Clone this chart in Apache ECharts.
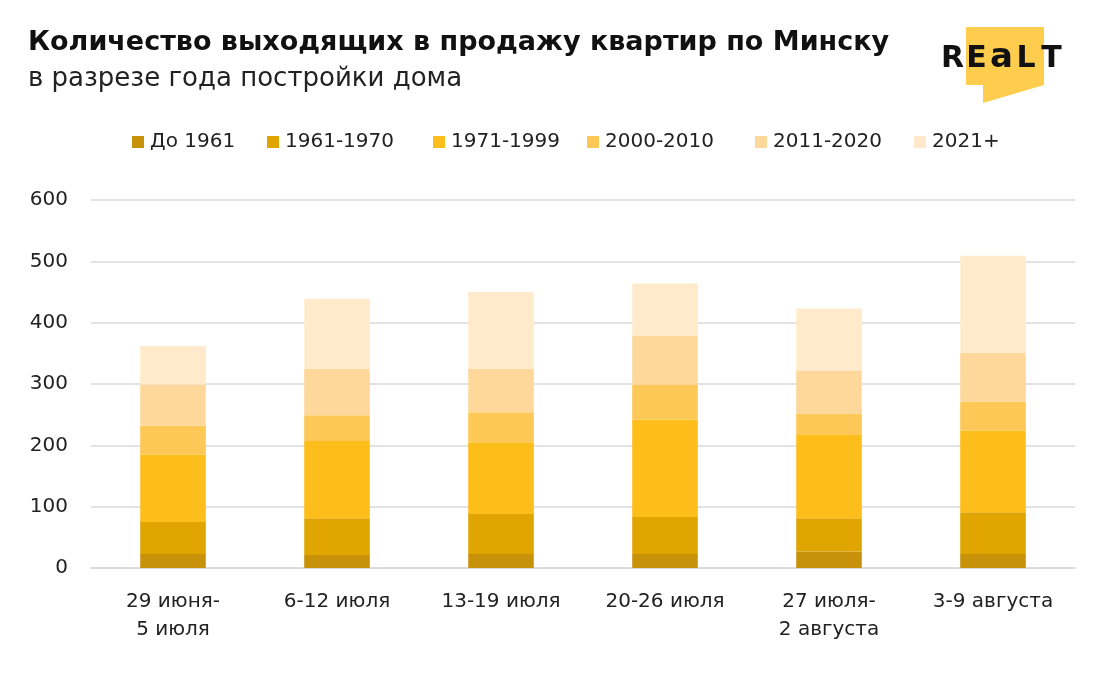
<!DOCTYPE html>
<html>
<head>
<meta charset="utf-8">
<script src="https://cdn.jsdelivr.net/npm/echarts@6/dist/echarts.min.js"></script>
<style>
html,body{margin:0;padding:0;background:#fff;}
#c{width:1100px;height:695px;}
</style>
</head>
<body>
<div id="c"></div>
<script>
const categories = ['29 июня-\n5 июля', '6-12 июля', '13-19 июля', '20-26 июля', '27 июля-\n2 августа', '3-9 августа'];
const seriesNames = ['До 1961', '1961-1970', '1971-1999', '2000-2010', '2011-2020', '2021+'];
const before1961 = [23, 21, 23, 23, 27, 23];
const y1961_1970 = [52, 60, 65, 60, 54, 68];
const y1971_1999 = [110, 126, 117, 159, 136, 133];
const y2000_2010 = [47, 42, 49, 57, 35, 47];
const y2011_2020 = [67, 76, 71, 80, 70, 80];
const y2021plus = [63, 114, 125, 85, 101, 158];
const yTicks = [0, 100, 200, 300, 400, 500, 600];

const colors = ['#C7920A', '#E0A500', '#FDBE1C', '#FDC855', '#FED89A', '#FFEBCB'];
const values = [before1961, y1961_1970, y1971_1999, y2000_2010, y2011_2020, y2021plus];
const legendLefts = [132, 267, 433, 587, 755, 914];
const FONT = '"DejaVu Sans", sans-serif';

const logoLetters = [
  { t: 'R', x: 952.5, y: 44, s: 30 },
  { t: 'E', x: 976.5, y: 44, s: 30 },
  { t: 'a', x: 1001.5, y: 41, s: 34 },
  { t: 'L', x: 1026, y: 44, s: 30 },
  { t: 'T', x: 1051.5, y: 44, s: 30 }
];

const chart = echarts.init(document.getElementById('c'));
chart.setOption({
  backgroundColor: '#fff',
  animation: false,
  textStyle: { fontFamily: FONT },
  title: [
    { text: 'Количество выходящих в продажу квартир по Минску', left: 23, top: 24,
      textStyle: { fontFamily: FONT, fontSize: 27, fontWeight: 'bold', color: '#111' } },
    { text: 'в разрезе года постройки дома', left: 23, top: 61,
      textStyle: { fontFamily: FONT, fontSize: 26, fontWeight: 'normal', color: '#222' } }
  ],
  legend: seriesNames.map((n, i) => ({
    data: [n],
    left: legendLefts[i], top: 132,
    padding: 0,
    itemWidth: 12, itemHeight: 12, itemGap: 0,
    icon: 'rect',
    textStyle: { fontFamily: FONT, fontSize: 20, color: '#222', padding: [0, 0, 0, 1] }
  })),
  grid: { left: 91, right: 25, top: 200, bottom: 127 },
  xAxis: {
    type: 'category',
    data: categories,
    axisLine: { lineStyle: { color: '#d9d9d9', width: 1.5 } },
    axisTick: { show: false },
    axisLabel: { fontFamily: FONT, fontSize: 20, color: '#222', margin: 20, lineHeight: 28 }
  },
  yAxis: {
    type: 'value',
    min: yTicks[0], max: yTicks[yTicks.length - 1], interval: 100,
    axisLine: { show: false },
    axisTick: { show: false },
    splitLine: { lineStyle: { color: '#d9d9d9', width: 1.5 } },
    axisLabel: { fontFamily: FONT, fontSize: 20, color: '#222', margin: 23 }
  },
  series: seriesNames.map((n, i) => ({
    name: n,
    type: 'bar',
    stack: 'total',
    barWidth: '40%',
    data: values[i],
    itemStyle: { color: colors[i] }
  })),
  graphic: [
    { type: 'polygon', shape: { points: [[966,27],[1044,27],[1044,85],[983,103],[983,85],[966,85]] },
      style: { fill: '#FFCD4D' } }
  ].concat(logoLetters.map(l => ({
    type: 'text', x: l.x, y: l.y,
    style: { text: l.t, fontFamily: FONT, fontSize: l.s, fontWeight: 'bold', fill: '#111',
             align: 'center', verticalAlign: 'top' }
  })))
});
</script>
</body>
</html>
